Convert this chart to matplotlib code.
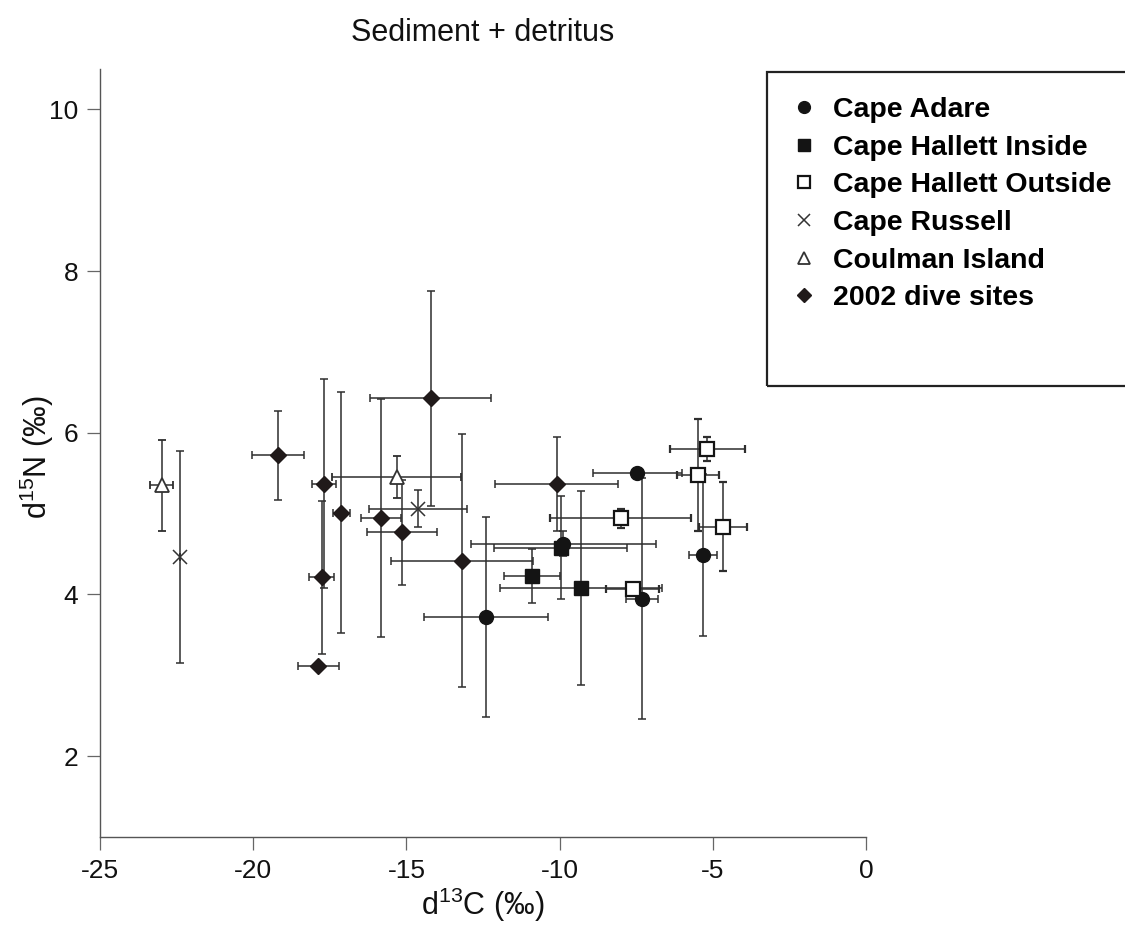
import numpy as np
import matplotlib.pyplot as plt
from matplotlib.lines import Line2D
from matplotlib.patches import Rectangle

plt.rcParams['font.family'] = ['Liberation Sans', 'DejaVu Sans']
plt.rcParams['mathtext.default'] = 'regular'
plt.rcParams['axes.unicode_minus'] = False

############################# SITE MEANS AND SDs ##################################
# d13C / d15N means with +-1 SD for each sampling group
adare_c = [-12.40, -9.88, -7.46, -7.30, -5.31]
adare_n = [3.72, 4.63, 5.50, 3.95, 4.49]
adare_c_sd = [2.03, 3.02, 1.44, 0.52, 0.46]
adare_n_sd = [1.24, 0.15, 0.05, 1.49, 1.00]

hallett_in_c = [-10.90, -9.96, -9.31]
hallett_in_n = [4.23, 4.58, 4.08]
hallett_in_c_sd = [0.90, 2.17, 2.64]
hallett_in_n_sd = [0.33, 0.64, 1.20]

hallett_out_c = [-8.00, -7.62, -5.48, -5.18, -4.67]
hallett_out_n = [4.94, 4.07, 5.48, 5.80, 4.84]
hallett_out_c_sd = [2.30, 0.85, 0.68, 1.23, 0.78]
hallett_out_n_sd = [0.12, 0.05, 0.69, 0.15, 0.55]

russell_c = [-22.39, -14.63]
russell_n = [4.46, 5.06]
russell_c_sd = [0.0, 1.60]
russell_n_sd = [1.31, 0.23]

coulman_c = [-22.99, -15.32]
coulman_n = [5.35, 5.45]
coulman_c_sd = [0.37, 2.10]
coulman_n_sd = [0.56, 0.26]

dive_c = [-19.18, -17.69, -17.77, -17.87, -17.12, -14.21, -15.83, -15.15, -13.19, -10.10]
dive_n = [5.72, 5.37, 4.21, 3.11, 5.01, 6.43, 4.95, 4.77, 4.42, 5.37]
dive_c_sd = [0.85, 0.40, 0.40, 0.68, 0.27, 1.98, 0.65, 1.15, 2.31, 2.02]
dive_n_sd = [0.55, 1.29, 0.95, 0.0, 1.49, 1.33, 1.47, 0.65, 1.57, 0.58]

labels = ['Cape Adare', 'Cape Hallett Inside', 'Cape Hallett Outside',
          'Cape Russell', 'Coulman Island', '2002 dive sites']
x_ticks = [-25, -20, -15, -10, -5, 0]
y_ticks = [2, 4, 6, 8, 10]

groups = [
    (adare_c, adare_n, adare_c_sd, adare_n_sd, dict(marker='o', ms=10, mfc='#141414', mec='#141414')),
    (hallett_in_c, hallett_in_n, hallett_in_c_sd, hallett_in_n_sd, dict(marker='s', ms=10.5, mfc='#141414', mec='#141414')),
    (hallett_out_c, hallett_out_n, hallett_out_c_sd, hallett_out_n_sd, dict(marker='s', ms=10, mfc='white', mec='#141414', mew=1.6)),
    (russell_c, russell_n, russell_c_sd, russell_n_sd, dict(marker='x', ms=10, mfc='none', mec='#333333', mew=1.1)),
    (coulman_c, coulman_n, coulman_c_sd, coulman_n_sd, dict(marker='^', ms=10, mfc='white', mec='#333333', mew=1.3)),
    (dive_c, dive_n, dive_c_sd, dive_n_sd, dict(marker='D', ms=8.5, mfc='#201a1a', mec='#201a1a')),
]

############################# PLOT ################################################
fig = plt.figure(figsize=(11.25, 9.26), dpi=100)
ax = fig.add_axes([100/1125, 1-837/926, 766/1125, 768/926])

for c, n, c_sd, n_sd, style in groups:
    ax.errorbar(c, n, xerr=c_sd, yerr=n_sd, ls='none', ecolor='#2e2e2e',
                elinewidth=1.1, capsize=3, capthick=1.1, zorder=3, **style)

ax.set_xlim(-25, 0)
ax.set_ylim(1, 10.5)
ax.set_xticks(x_ticks)
ax.set_yticks(y_ticks)
ax.set_xticklabels([str(t) for t in x_ticks])
for side in ['top', 'right']:
    ax.spines[side].set_visible(False)
for side in ['left', 'bottom']:
    ax.spines[side].set_color('#555555')
    ax.spines[side].set_linewidth(1.0)
ax.tick_params(direction='out', length=9.5, width=0.9, color='#666666',
               labelsize=19, labelcolor='#111111', pad=6)

ax.set_xlabel('d$^{13}$C (‰)', fontsize=22, color='#111111')
ax.set_ylabel('d$^{15}$N (‰)', fontsize=22, color='#111111')
ax.xaxis.set_label_coords(0.5, -0.063)
ax.yaxis.set_label_coords(-0.057, 0.495)
ax.set_title('Sediment + detritus', fontsize=22, color='#111111', pad=20)

# legend in a plain box to the right of the axes
handles = [Line2D([], [], ls='none', **dict(style, ms=style['ms']*0.85))
           for *_, style in groups]
fig.add_artist(Rectangle((767/1125, 1-386/926), 370/1125, 314/926,
                         transform=fig.transFigure, fill=False,
                         ec='#222222', lw=1.6, clip_on=False))
fig.legend(handles, labels, loc='upper left', bbox_to_anchor=(790/1125, 1-97/926),
           frameon=False, prop={'weight': 'bold', 'size': 20.5},
           labelspacing=0.41, handlelength=1.0, handletextpad=0.5,
           borderpad=0, borderaxespad=0)

fig.savefig('out.png', dpi=100)
